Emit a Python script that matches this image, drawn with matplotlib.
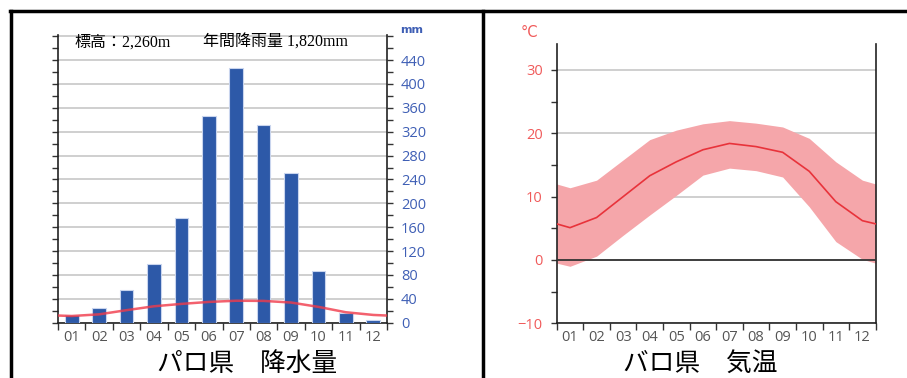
import matplotlib
matplotlib.use("Agg")
import matplotlib.pyplot as plt
from matplotlib.lines import Line2D
from matplotlib.ticker import MultipleLocator, FixedLocator, NullFormatter

plt.rcParams['font.family'] = ['Open Sans', 'Noto Sans CJK JP', 'DejaVu Sans']

# データ
months = [1, 2, 3, 4, 5, 6, 7, 8, 9, 10, 11, 12]
month_labels = ["01", "02", "03", "04", "05", "06", "07", "08", "09", "10", "11", "12"]
precip = [13, 25, 55, 99, 176, 346, 427, 331, 250, 86, 16, 5]
curve_x = [0.5, 1, 2, 3, 4, 5, 6, 7, 8, 9, 10, 11, 12, 12.5]
precip_curve = [12, 11.2, 14, 21, 27.5, 31.5, 34.8, 36.8, 36.5, 33.8, 26.5, 17.5, 13, 12]
temp_mean = [5.7, 5.1, 6.7, 10.0, 13.3, 15.5, 17.4, 18.4, 17.9, 17.0, 14.0, 9.2, 6.2, 5.7]
temp_max = [12.0, 11.4, 12.6, 15.8, 19.0, 20.5, 21.5, 22.0, 21.6, 21.0, 19.2, 15.5, 12.6, 12.0]
temp_min = [-0.5, -1.0, 0.6, 3.9, 7.1, 10.2, 13.4, 14.5, 14.1, 13.1, 8.4, 2.9, 0.1, -0.5]

W, H = 907, 378
fig = plt.figure(figsize=(W / 100, H / 100), dpi=100)

def fx(px):
    return px / W

def fy(py):
    return 1 - py / H

# 枠線
fig.add_artist(Line2D([fx(10), 1], [fy(11), fy(11)], color='black', lw=2.5, transform=fig.transFigure))
fig.add_artist(Line2D([fx(11), fx(11)], [0, fy(11)], color='black', lw=2.5, transform=fig.transFigure))
fig.add_artist(Line2D([fx(483), fx(483)], [0, fy(11)], color='black', lw=2.5, transform=fig.transFigure))

tick_color = '#555555'

# ---- 降水量 ----
ax1 = fig.add_axes([fx(58), fy(322.7), fx(387 - 58), (322.7 - 35) / H])
ax1.bar(months, precip, width=0.5, color='#2d59a8', edgecolor='#c9d5ee', linewidth=0.8, zorder=3)
ax1.plot(curve_x, precip_curve, color='#f03a4a', lw=1.8, alpha=0.8, zorder=4)
ax1.set_xlim(0.5, 12.5)
ax1.set_ylim(0, 482)
ax1.yaxis.set_minor_locator(MultipleLocator(20))
ax1.set_yticks(range(0, 481, 40))
ax1.set_yticklabels([str(v) for v in range(0, 481, 40)][:-1] + [""])
ax1.grid(axis='y', color='#cccccc', lw=1.3, zorder=0)
ax1.tick_params(axis='y', which='both', left=True, right=True, labelleft=False,
                labelright=True, direction='out', color='#333333', length=4, width=1,
                labelcolor='#3f5fb5', labelsize=10.5, pad=6)
ax1.spines['top'].set_visible(False)
for s in ['left', 'right', 'bottom']:
    ax1.spines[s].set_color('#222222')
    ax1.spines[s].set_linewidth(1.2)

ax1.text(1.075, 1.0, "mm", transform=ax1.transAxes, color='#3f5fb5', fontsize=8,
         fontweight='bold', ha='center', va='bottom', family=['DejaVu Sans Condensed', 'DejaVu Sans'])
ax1.text(0.05, 0.972, "標高：2,260m", transform=ax1.transAxes, fontsize=11.5,
         family=['Liberation Serif', 'Noto Sans CJK JP'], va='center', ha='left')
ax1.text(0.44, 0.972, "年間降雨量 1,820mm", transform=ax1.transAxes, fontsize=11.5,
         family=['Liberation Serif', 'Noto Sans CJK JP'], va='center', ha='left')

# ---- 気温 ----
ax2 = fig.add_axes([fx(556.7), fy(323.3), fx(875.7 - 556.7), (323.3 - 44) / H])
ax2.fill_between(curve_x, temp_min, temp_max, color='#f5a6aa', lw=0, zorder=2)
ax2.plot(curve_x, temp_mean, color='#e8333b', lw=1.2, zorder=3)
ax2.axhline(0, color='#333333', lw=1.3, zorder=4)
ax2.set_xlim(0.5, 12.5)
ax2.set_ylim(-10, 34.1)
ax2.set_yticks([-10, 0, 10, 20, 30])
ax2.set_yticklabels(["\u221210", "0", "10", "20", "30"])
ax2.yaxis.set_minor_locator(MultipleLocator(5))
ax2.grid(axis='y', color='#cccccc', lw=1.3, zorder=0)
ax2.tick_params(axis='y', which='both', left=True, right=False, direction='out',
                color='#333333', length=4, width=1, labelcolor='#f05a5a', labelsize=10.5, pad=6)
ax2.spines['top'].set_visible(False)
for s in ['left', 'right', 'bottom']:
    ax2.spines[s].set_color('#222222')
    ax2.spines[s].set_linewidth(1.2)
ax2.text(-0.085, 1.015, "°C", transform=ax2.transAxes, color='#f05a5a', fontsize=10.5,
         ha='center', va='bottom', family=['DejaVu Sans'])

# x軸：境界に目盛、中央にラベル
for ax in [ax1, ax2]:
    ax.xaxis.set_major_locator(FixedLocator([m + 0.5 for m in range(0, 13)]))
    ax.xaxis.set_major_formatter(NullFormatter())
    ax.xaxis.set_minor_locator(FixedLocator(months))
    ax.set_xticklabels(month_labels, minor=True)
    ax.tick_params(axis='x', which='major', direction='out', length=5, width=1, color='#333333')
    ax.tick_params(axis='x', which='minor', length=0, labelsize=10.5, labelcolor=tick_color, pad=5)

fig.text(fx(247), fy(377), "パロ県　降水量", fontsize=18.5, ha='center', va='bottom',
         family=['Noto Sans CJK JP'])
fig.text(fx(700), fy(377), "バロ県　気温", fontsize=18.5, ha='center', va='bottom',
         family=['Noto Sans CJK JP'])

fig.savefig("out.png", dpi=100)
